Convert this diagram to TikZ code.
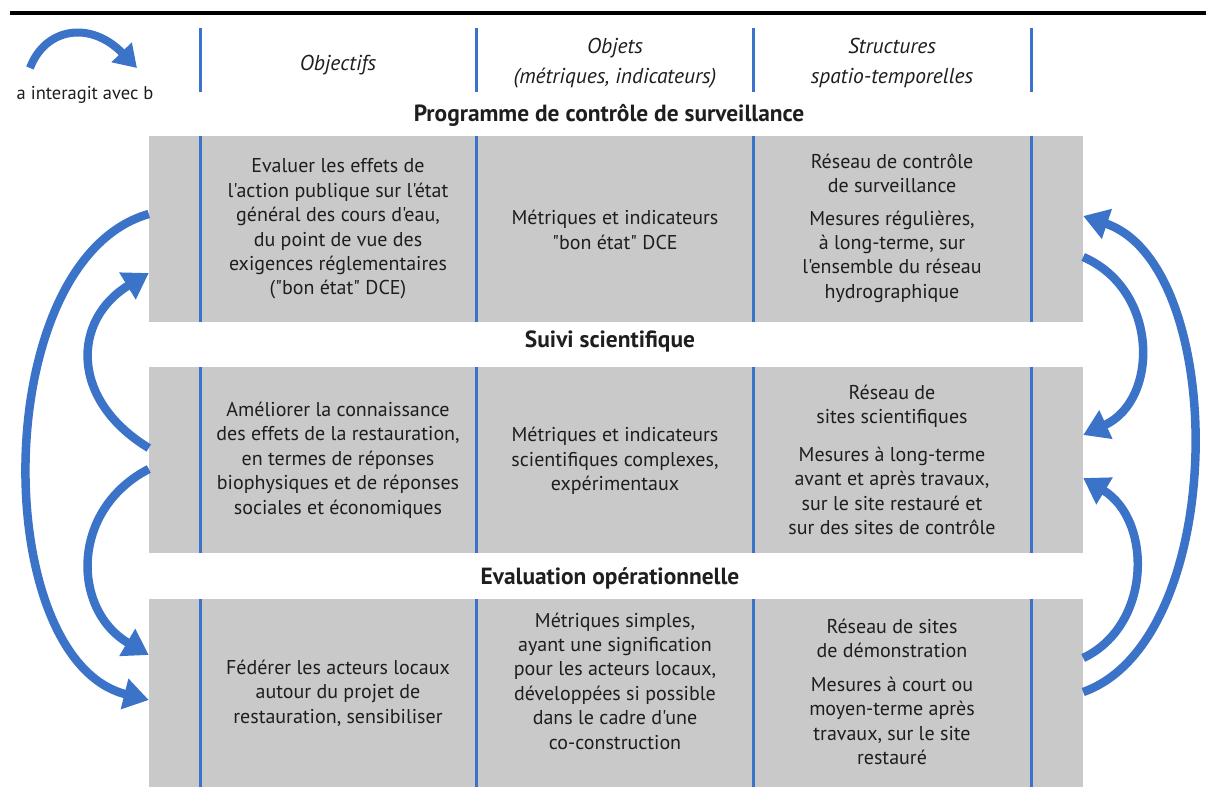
\documentclass[tikz,border=0pt]{standalone}
\usepackage{fontspec}
\setmainfont{PT Sans}[Ligatures=TeXReset]
\usetikzlibrary{arrows.meta}
\definecolor{arrowblue}{HTML}{3A73C8}
\definecolor{boxgray}{HTML}{C9C9C9}
\definecolor{ink}{HTML}{1E1E1E}
\tikzset{
  graybox/.style={fill=boxgray, draw=none, inner sep=0pt, minimum width=934pt},
  sep/.style={draw=arrowblue, line width=3pt},
  txt/.style={align=center, text=ink, inner sep=0pt, font=\fontsize{20}{24.4}\selectfont},
  hdr/.style={align=center, text=ink, inner sep=0pt, font=\fontsize{21.5}{30}\selectfont\itshape},
  ttl/.style={text=ink, inner sep=0pt, font=\fontsize{23.4}{26}\selectfont\bfseries},
  link/.style={draw=arrowblue, line width=8.5pt, -{Triangle[length=25pt,width=30pt]}},
}
\begin{document}
\begin{tikzpicture}[x=1pt,y=-1pt]
\useasboundingbox (0,0) rectangle (1216,798);
\fill[white] (0,0) rectangle (1216,798);
% top rule
\draw[line width=3.5pt, black] (10,13) -- (1206,13);

% legend
\coordinate (la) at (30,68);
\coordinate (lb) at (137,68);
\draw[link, line width=8pt, -{Triangle[length=22pt,width=27pt]}] (la) .. controls +(15,-40) and +(-47,-48) .. (lb);
\node[text=ink, inner sep=0pt, font=\fontsize{18.5}{22}\selectfont] (legend) at (85,95) {a interagit avec b};

% header separators
\foreach \x/\n in {200/h1,476/h2,753/h3,1031/h4}{
  \coordinate (\n t) at (\x,28);
  \coordinate (\n b) at (\x,92);
  \draw[sep] (\n t) -- (\n b);
}
\node[hdr] (hobj) at (338,65) {Objectifs};
\node[hdr] (hmet) at (615,63) {Objets\\(métriques, indicateurs)};
\node[hdr] (hstr) at (892,63) {Structures\\spatio-temporelles};

% titles
\node[ttl] (s1) at (609,115) {Programme de contrôle de surveillance};
\node[ttl] (s2) at (610,341) {Suivi scientifique};
\node[ttl] (s3) at (610,578) {Evaluation opérationnelle};

% boxes
\node[graybox, minimum height=186pt] (b1) at (616,229) {};
\node[graybox, minimum height=186pt] (b2) at (616,460) {};
\node[graybox, minimum height=188pt] (b3) at (616,693) {};

\foreach \b in {b1,b2,b3}{
  \foreach \x in {200,476,753,1031}{
    \draw[sep] (\x,0 |- \b.north) -- (\x,0 |- \b.south);
  }
}

% box 1
\node[txt] (t11) at (338,229) {Evaluer les effets de\\l'action publique sur l'état\\général des cours d'eau,\\du point de vue des\\exigences réglementaires\\("bon état" DCE)};
\node[txt] (t12) at (615,230) {Métriques et indicateurs\\"bon état" DCE};
\node[txt] (t13) at (892,228) {Réseau de contrôle\\de surveillance\\[8pt]Mesures régulières,\\à long-terme, sur\\l'ensemble du réseau\\hydrographique};

% box 2
\node[txt] (t21) at (338,460) {Améliorer la connaissance\\des effets de la restauration,\\en termes de réponses\\biophysiques et de réponses\\sociales et économiques};
\node[txt] (t22) at (615,461) {Métriques et indicateurs\\scientifiques complexes,\\expérimentaux};
\node[txt] (t23) at (892,460) {Réseau de\\sites scientifiques\\[13pt]Mesures à long-terme\\avant et après travaux,\\sur le site restauré et\\sur des sites de contrôle};

% box 3
\node[txt] (t31) at (338,693) {Fédérer les acteurs locaux\\autour du projet de\\restauration, sensibiliser};
\node[txt] (t32) at (615,681) {Métriques simples,\\ayant une signification\\pour les acteurs locaux,\\développées si possible\\dans le cadre d'une\\co-construction};
\node[txt] (t33) at (892,692) {Réseau de sites\\de démonstration\\[9pt]Mesures à court ou\\moyen-terme après\\travaux, sur le site\\restauré};

% left arrows
\draw[link] ([yshift=15pt]b1.west) .. controls +(-161,46) and +(-160,-40) .. ([yshift=-7pt]b3.west);
\draw[link] ([yshift=12pt]b2.west) .. controls +(-79,-48) and +(-77,47) .. ([yshift=-44pt]b1.west);
\draw[link] ([yshift=-9pt]b2.west) .. controls +(-79,41) and +(-77,-45) .. ([yshift=38pt]b3.west);

% right arrows
\draw[link] ([yshift=-28pt]b1.east) .. controls +(76,33) and +(76,-35) .. ([yshift=25pt]b2.east);
\draw[link] ([yshift=35pt]b3.east) .. controls +(69,-33) and +(69,42) .. ([yshift=-18pt]b2.east);
\draw[link] ([yshift=1pt]b3.east) .. controls +(146,-52) and +(146,49) .. ([yshift=13pt]b1.east);
\end{tikzpicture}
\end{document}
